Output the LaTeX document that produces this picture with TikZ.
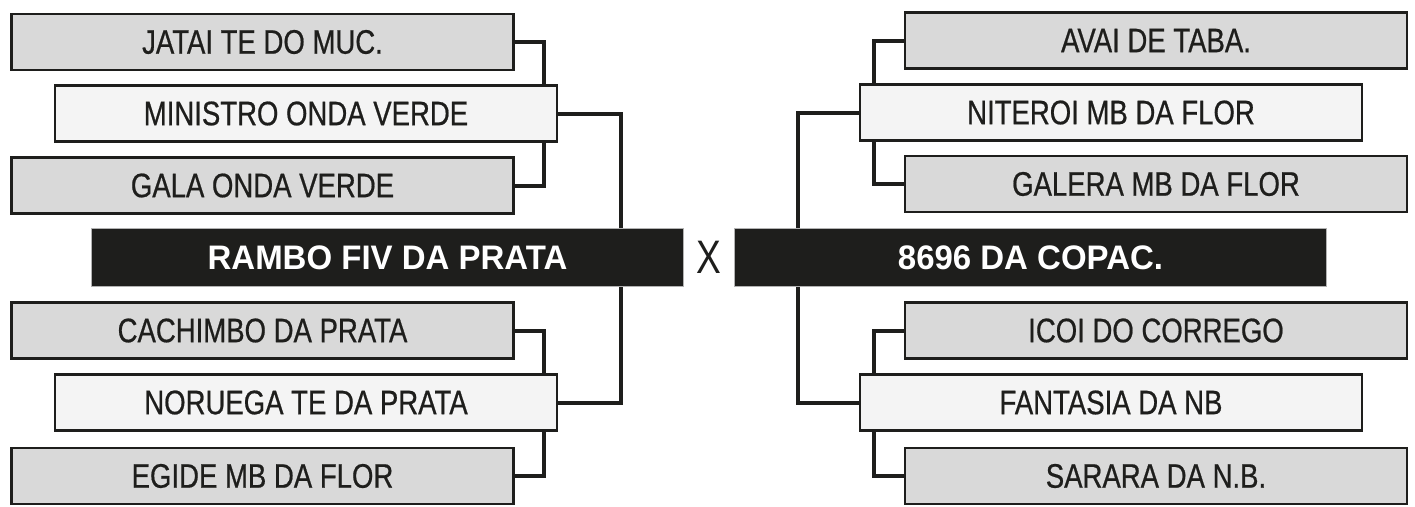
\documentclass[tikz,border=0pt]{standalone}
\usepackage{fontspec}
\setmainfont{Liberation Sans}
\newfontfamily\lblfont[FakeStretch=0.81,FakeBold=0.6]{Liberation Sans}
\newfontfamily\finfont[FakeStretch=0.97]{Liberation Sans}
\newfontfamily\vsfont[FakeStretch=0.79]{Liberation Sans}
\usetikzlibrary{backgrounds}
\definecolor{ink}{HTML}{1E1E1C}
\definecolor{grayfill}{HTML}{D9D9D9}
\definecolor{litefill}{HTML}{F4F4F4}
\tikzset{
  teambox/.style={draw=ink, line width=2.4pt, minimum width=502pt, minimum height=56pt,
    inner sep=0pt, outer sep=0pt, text=ink, font=\lblfont\fontsize{34}{34}\selectfont},
  loser/.style={teambox, fill=grayfill},
  winner/.style={teambox, fill=litefill},
  finalist/.style={draw=gray!60, line width=1pt, fill=ink, text=white, minimum width=592pt,
    minimum height=58pt, inner sep=0pt, outer sep=0pt, font=\finfont\bfseries\fontsize{34}{34}\selectfont},
  bracket/.style={draw=ink, line width=4pt},
  versus/.style={text=ink, font=\vsfont\fontsize{47}{47}\selectfont, inner sep=0pt}
}
\begin{document}
\begin{tikzpicture}[x=1pt,y=-1pt]
\useasboundingbox (0,0) rectangle (1415,506);
% left side
\node[loser]  (jatai)    at (262.5,42)    {JATAI TE DO MUC.};
\node[winner] (ministro) at (306,113.5)   {MINISTRO ONDA VERDE};
\node[loser]  (gala)     at (262.5,185.5) {GALA ONDA VERDE};
\node[finalist] (rambo)  at (387.5,257.5) {RAMBO FIV DA PRATA};
\node[loser]  (cachimbo) at (262.5,330.5) {CACHIMBO DA PRATA};
\node[winner] (noruega)  at (306,402.5)   {NORUEGA TE DA PRATA};
\node[loser]  (egide)    at (262.5,476)   {EGIDE MB DA FLOR};
% centre
\node[versus] (x) at (709,257.5) {X};
% right side
\node[loser]  (avai)     at (1156,40.5)   {AVAI DE TABA.};
\node[winner] (niteroi)  at (1111,112.5)  {NITEROI MB DA FLOR};
\node[loser]  (galera)   at (1156,184)    {GALERA MB DA FLOR};
\node[finalist] (copac)  at (1030.5,257.5){8696 DA COPAC.};
\node[loser]  (icoi)     at (1156,330.5)  {ICOI DO CORREGO};
\node[winner] (fantasia) at (1111,402.5)  {FANTASIA DA NB};
\node[loser]  (sarara)   at (1156,476)    {SARARA DA N.B.};
\begin{scope}[on background layer]
\fill[white] (0,0) rectangle (1415,506);
\draw[bracket] (jatai.east) -- ++(30,0) |- (gala.east);
\draw[bracket] (cachimbo.east) -- ++(30,0) |- (egide.east);
\draw[bracket] (ministro.east) -- ++(64,0) |- (noruega.east);
\draw[bracket] (avai.west) -- ++(-31,0) |- (galera.west);
\draw[bracket] (icoi.west) -- ++(-31,0) |- (sarara.west);
\draw[bracket] (niteroi.west) -- ++(-62,0) |- (fantasia.west);
\end{scope}
\end{tikzpicture}
\end{document}
